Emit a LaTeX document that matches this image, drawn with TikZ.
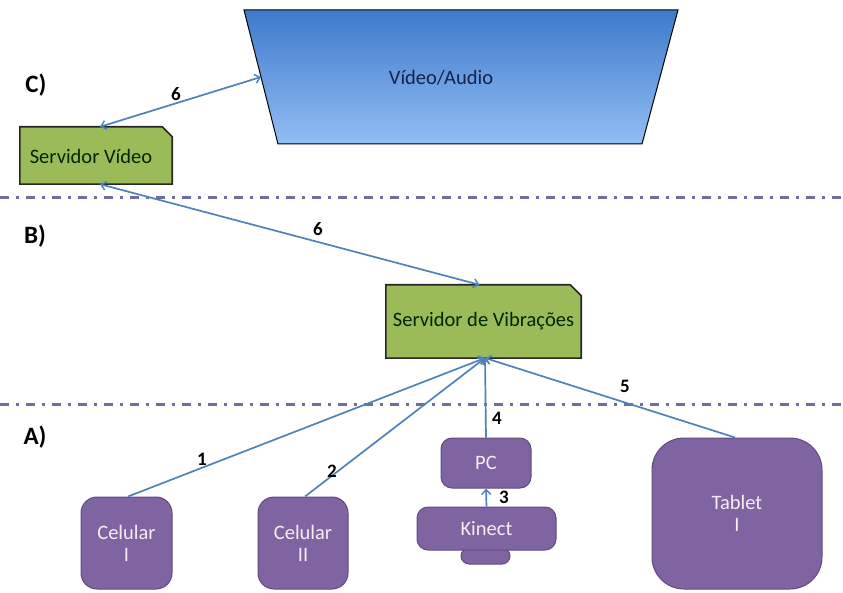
\documentclass[tikz,border=0pt]{standalone}
\usepackage{fontspec}
\setmainfont{Carlito}
\usetikzlibrary{arrows.meta,backgrounds}
\definecolor{arrowblue}{RGB}{79,129,189}
\definecolor{boxgreen}{RGB}{155,187,89}
\definecolor{boxpurple}{RGB}{128,100,162}
\definecolor{purpleedge}{RGB}{96,74,128}
\definecolor{sepline}{RGB}{110,110,160}
\definecolor{topblue}{RGB}{62,122,204}
\definecolor{botblue}{RGB}{146,190,243}
\definecolor{navytext}{RGB}{22,34,72}
\begin{document}
\begin{tikzpicture}[x=1pt,y=-1pt,
  bigfont/.style={font=\fontsize{20.5}{22}\selectfont},
  greenbox/.style={bigfont,text=black!85!green,inner sep=0pt,draw=none},
  purplebox/.style={bigfont,fill=boxpurple,draw=purpleedge,line width=1pt,text=white!92!purple,align=center,inner sep=0pt},
  conn/.style={draw=arrowblue,line width=1.7pt},
  tipend/.style={-{Straight Barb[length=5pt,width=9pt,line width=1.4pt]}},
  tipboth/.style={{Straight Barb[length=5pt,width=9pt,line width=1.4pt]}-{Straight Barb[length=5pt,width=9pt,line width=1.4pt]}},
  numlabel/.style={font=\bfseries\fontsize{19}{21}\selectfont,text=black},
  seclabel/.style={font=\bfseries\fontsize{25}{27}\selectfont,text=black},
  sepstyle/.style={draw=sepline,line width=3pt,dash pattern=on 9pt off 7pt on 2.5pt off 7.5pt}
]
\useasboundingbox (0,0) rectangle (843,593);

% separators
\draw[sepstyle] (0,198) -- (843,198);
\draw[sepstyle] (0,404) -- (843,404);

% Video/Audio trapezoid
\draw[black,line width=1pt,top color=topblue,bottom color=botblue]
  (244,10) -- (678,10) -- (642,144) -- (278,144) -- cycle;
\node[bigfont,text=navytext] (va) at (441,78) {Vídeo/Audio};
\coordinate (vaedge) at (261,77);

% green servers
\node[greenbox,minimum width=152pt,minimum height=57pt] (sv) at (96,155.5) {};
\node[greenbox] (svtext) at (91,156) {Servidor Vídeo};
\node[greenbox,minimum width=195pt,minimum height=73pt] (svib) at (483.5,321.5) {Servidor de Vibrações};
\begin{scope}[on background layer]
  \draw[fill=boxgreen,draw=black!85,line width=1.6pt]
    (sv.north west) -- ([xshift=-10pt]sv.north east) -- ([yshift=-10pt]sv.north east)
    -- (sv.south east) -- (sv.south west) -- cycle;
  \draw[fill=boxgreen,draw=black!85,line width=1.6pt]
    (svib.north west) -- ([xshift=-11pt]svib.north east) -- ([yshift=-11pt]svib.north east)
    -- (svib.south east) -- (svib.south west) -- cycle;
\end{scope}

% purple devices
\node[purplebox,rounded corners=16pt,minimum width=91pt,minimum height=92pt] (c1) at (126.5,543) {Celular\\I};
\node[purplebox,rounded corners=16pt,minimum width=90pt,minimum height=92pt] (c2) at (303,543) {Celular\\II};
\node[purplebox,rounded corners=11pt,minimum width=90pt,minimum height=50pt] (pc) at (486,463) {PC};
\node[purplebox,rounded corners=8pt,minimum width=49pt,minimum height=16pt] (stand) at (485.5,556) {};
\node[purplebox,rounded corners=11pt,minimum width=139pt,minimum height=43pt] (kin) at (486.5,528.5) {Kinect};
\node[purplebox,rounded corners=32pt,minimum width=170pt,minimum height=151pt] (tab) at (737,513.5) {Tablet\\I};

% connectors
\coordinate (hub) at (485,358);
\draw[conn,tipboth] ([xshift=4pt]sv.north) -- (vaedge);
\draw[conn,tipboth] ([xshift=4pt]sv.south) -- ([xshift=-4pt]svib.north);
\draw[conn,tipend] ([xshift=1.5pt]c1.north) -- (hub);
\draw[conn,tipend] ([xshift=2pt]c2.north) -- (hub);
\draw[conn,tipend] (pc.north) -- (hub);
\draw[conn,tipend] ([xshift=-2pt]tab.north) -- (hub);
\draw[conn,tipend] (kin.north) -- (pc.south);

% number labels
\node[numlabel] (n6a) at (176,94) {6};
\node[numlabel] (n6b) at (318,229) {6};
\node[numlabel] (n1) at (202,459) {1};
\node[numlabel] (n2) at (332,471) {2};
\node[numlabel] (n3) at (504,497) {3};
\node[numlabel] (n4) at (497,418) {4};
\node[numlabel] (n5) at (625,386) {5};

% section labels
\node[seclabel] (lc) at (36,85) {C)};
\node[seclabel] (lb) at (35,236) {B)};
\node[seclabel] (la) at (35,437) {A)};
\end{tikzpicture}
\end{document}
